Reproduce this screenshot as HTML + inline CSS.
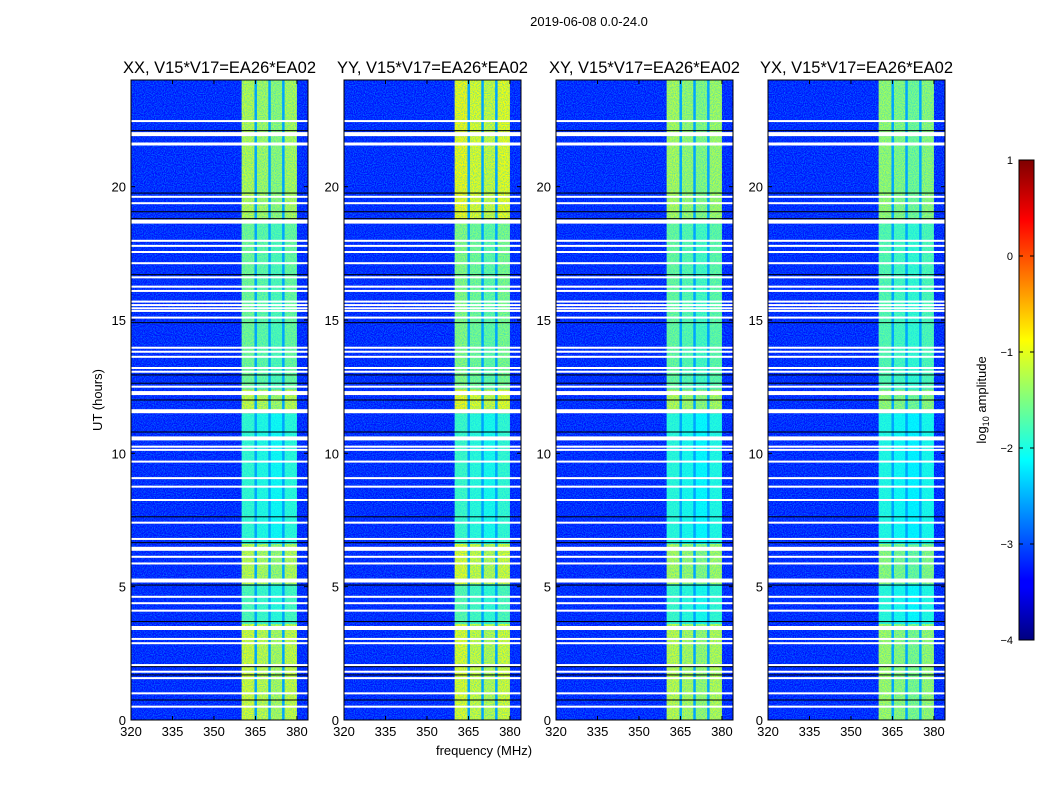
<!DOCTYPE html>
<html><head><meta charset="utf-8">
<style>
body{margin:0;background:#fff;font-family:"Liberation Sans",sans-serif;}
svg{display:block}
text{font-family:"Liberation Sans",sans-serif;fill:#000}
</style></head>
<body>
<svg id="chart" width="1050" height="800" viewBox="0 0 1050 800" xmlns="http://www.w3.org/2000/svg">
<defs>
<filter id="noise" x="0" y="0" width="100%" height="100%">
<feTurbulence type="fractalNoise" baseFrequency="0.9" numOctaves="1" seed="3"/>
<feColorMatrix type="matrix" values="0 0 0 0 0  0 0 0 0 0.55  0 0 0 0 1  0 0 0 -3 1.9"/>
</filter>
<linearGradient id="jetgrad" x1="0" y1="1" x2="0" y2="0">
<stop offset="0" stop-color="#00007f"/><stop offset="0.11" stop-color="#0000ff"/>
<stop offset="0.125" stop-color="#0000ff"/><stop offset="0.375" stop-color="#00ffff"/>
<stop offset="0.625" stop-color="#ffff00"/><stop offset="0.875" stop-color="#ff0000"/>
<stop offset="1" stop-color="#7f0000"/>
</linearGradient>
</defs>
<text x="589" y="26" font-size="13" text-anchor="middle">2019-06-08 0.0-24.0</text>
<g id="panels"></g>
<text transform="translate(102,400) rotate(-90)" font-size="13" text-anchor="middle">UT (hours)</text>
<text x="484" y="755" font-size="13" text-anchor="middle">frequency (MHz)</text>
<g>
<rect x="1019" y="160" width="15" height="480" fill="url(#jetgrad)" stroke="#000" stroke-width="1"/>
<g id="cbticks"></g>
<text transform="translate(986,400) rotate(-90)" font-size="13" text-anchor="middle">log<tspan font-size="9" dy="3">10</tspan><tspan dy="-3"> amplitude</tspan></text>
</g>
</svg>
<script>
// ---- data ----
const panelTitles = ["XX, V15*V17=EA26*EA02","YY, V15*V17=EA26*EA02","XY, V15*V17=EA26*EA02","YX, V15*V17=EA26*EA02"];
const segmentBounds = [0,3.6,5.1,6.6,11.5,12.4,18.7,24];
const levelsXX = [-1.1,-1.8,-1.2,-1.95,-1.15,-1.6,-1.25];
const levelsYY = [-1.05,-1.75,-1.05,-1.9,-0.95,-1.5,-0.95];
const levelsXY = [-1.2,-1.9,-1.3,-2.0,-1.25,-1.65,-1.3];
const levelsYX = [-1.35,-2.0,-1.45,-2.05,-1.4,-1.75,-1.4];
const subbandStarts = [360,365,370,375];
const subbandOffsets = [0.1,0,-0.1,0.05];
const backgroundLevel = -3.3;
const flaggedHours = [22.46,21.97,21.6,19.62,19.38,18.69,17.97,17.78,17.55,17.13,16.6,16.25,16.09,15.69,15.56,15.44,15.34,15.09,13.96,13.81,13.62,13.2,13.06,12.5,12.26,11.58,10.56,10.25,10.13,9.69,9.07,8.75,8.25,7.4,6.79,6.42,6.12,5.87,5.23,4.62,4.38,4.1,3.45,3.04,2.88,2.06,1.81,1.57,1.0,0.5];
const flaggedWidths = [1,3,2,1,1,3,1,1,1,1,1,1,1,1,1,1,1,1,1,1,1,1,1,1,3,3,3,1,1,1,1,1,1,1,1,3,1,1,3,1,1,1,3,1,1,1,1,1,1,1];
const darkHours = [22.1,19.76,19.06,18.8,16.7,14.9,12.94,12.63,12.0,10.8,7.62,6.65,5.06,3.69,2.0,1.69,0.75];
const xTicks = [320,335,350,365,380];
const yTicks = [0,5,10,15,20];
const cbTicks = [1,0,-1,-2,-3,-4];
const cbLabels = ["1","0","\u22121","\u22122","\u22123","\u22124"];
const panelLevels = [levelsXX,levelsYY,levelsXY,levelsYX];
const panelX = [131,344,556,768];
// ---- layout ----
const PW=177, PT=80, PB=720, FMIN=320, FMAX=384, HMAX=24;
const NS="http://www.w3.org/2000/svg";
function el(tag, attrs, parent){const e=document.createElementNS(NS,tag);for(const k in attrs)e.setAttribute(k,attrs[k]);parent.appendChild(e);return e;}
function jet(v){let x=(v+4)/5;x=Math.max(0,Math.min(1,x));
 const c=t=>Math.round(255*Math.max(0,Math.min(1,t)));
 return `rgb(${c(Math.min(4*x-1.5,-4*x+4.5))},${c(Math.min(4*x-0.5,-4*x+3.5))},${c(Math.min(4*x+0.5,-4*x+2.5))})`;}
const panels=document.getElementById('panels');
panelX.forEach((x0,p)=>{
 const xs=f=>x0+(f-FMIN)/(FMAX-FMIN)*PW;
 const ys=h=>PB-h/HMAX*(PB-PT);
 const g=el('g',{},panels);
 
 
 const bg=el('rect',{x:x0,y:PT,width:PW,height:PB-PT,fill:jet(backgroundLevel)},g);
 
 
 const lv=panelLevels[p];
 for(let s=0;s<lv.length;s++){
  subbandStarts.forEach((f,k)=>{
   const r=el('rect',{x:xs(f),y:ys(segmentBounds[s+1]),width:xs(f+5)-xs(f),height:ys(segmentBounds[s])-ys(segmentBounds[s+1]),fill:jet(lv[s]+subbandOffsets[k])},g);
   
   
  });
 }
 subbandStarts.slice(1).forEach(f=>{
  const r=el('rect',{x:xs(f)-1,y:PT,width:2.5,height:PB-PT,fill:jet(-2.6)},g);
  
  
 });
 el('rect',{x:x0,y:PT,width:PW,height:PB-PT,fill:'#fff',filter:'url(#noise)',opacity:0.45},g);
 darkHours.forEach(h=>{const r=el('rect',{x:x0,y:ys(h)-0.5,width:PW,height:1,fill:'#000'},g);
  });
 flaggedHours.forEach((h,i)=>{const w=flaggedWidths[i]+1;const r=el('rect',{x:x0,y:ys(h)-w/2,width:PW,height:w,fill:'#fff'},g);
  });
 el('rect',{x:x0,y:PT,width:PW,height:PB-PT,fill:'none',stroke:'#000','stroke-width':1},g);
 const t=el('text',{x:x0+PW/2,y:73,'font-size':16.5,'text-anchor':'middle'},g);t.textContent=panelTitles[p];
 
 xTicks.forEach(f=>{const x=xs(f);
  el('line',{x1:x,x2:x,y1:PB,y2:PB-4,stroke:'#000'},g);el('line',{x1:x,x2:x,y1:PT,y2:PT+4,stroke:'#000'},g);
  const l=el('text',{x:x,y:PB+16,'font-size':13,'text-anchor':'middle'},g);l.textContent=f;
  });
 yTicks.forEach(h=>{const y=ys(h);
  el('line',{x1:x0,x2:x0+4,y1:y,y2:y,stroke:'#000'},g);el('line',{x1:x0+PW,x2:x0+PW-4,y1:y,y2:y,stroke:'#000'},g);
  const l=el('text',{x:x0-5,y:y+5,'font-size':13,'text-anchor':'end'},g);l.textContent=h;
  });
});
const cb=document.getElementById('cbticks');
cbTicks.forEach((v,i)=>{const y=640-(v+4)/5*480;
 el('line',{x1:1019,x2:1023,y1:y,y2:y,stroke:'#000'},cb);el('line',{x1:1034,x2:1030,y1:y,y2:y,stroke:'#000'},cb);
 const l=el('text',{x:1013,y:y+4,'font-size':11,'text-anchor':'end'},cb);l.textContent=cbLabels[i];
 });
</script>
</body></html>
